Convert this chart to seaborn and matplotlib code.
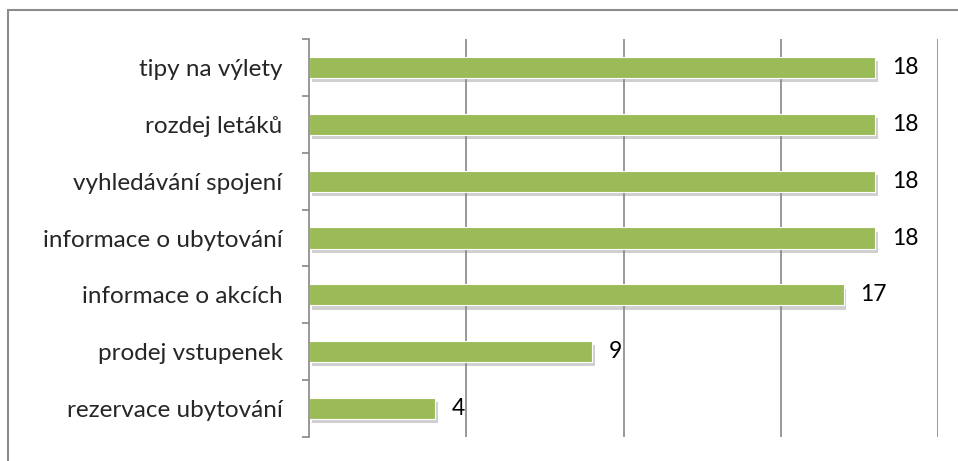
import matplotlib
matplotlib.use("Agg")
import matplotlib.pyplot as plt
import matplotlib.patheffects as pe
from matplotlib.patches import Rectangle
import seaborn as sns
import pandas as pd

categories = ["tipy na výlety", "rozdej letáků", "vyhledávání spojení",
              "informace o ubytování", "informace o akcích",
              "prodej vstupenek", "rezervace ubytování"]
values = [18, 18, 18, 18, 17, 9, 4]

df = pd.DataFrame({"sluzba": categories, "pocet": values})

sns.set_style("white")
plt.rcParams['font.family'] = ['Lato', 'DejaVu Sans']

fig = plt.figure(figsize=(9.58, 4.61), dpi=100)
ax = fig.add_axes([309 / 958, 1 - 437 / 461, (938 - 309) / 958, (437 - 39) / 461])

sns.barplot(data=df, x="pocet", y="sluzba", orient="h", color="#9BBB59",
            saturation=1, width=0.37, edgecolor="white", linewidth=0.8, ax=ax)

# soft grey shadow under each bar like the original
for bar in ax.patches:
    bar.set_path_effects([pe.SimplePatchShadow(offset=(2, -3), shadow_rgbFace="#8a8a8a", alpha=0.4),
                          pe.Normal()])

ax.bar_label(ax.containers[0], padding=12, fontsize=16.5, color="black")

ax.set_xlim(0, 20)
ax.set_ylim(len(categories) - 0.5, -0.5)
ax.set_xticks([5, 10, 15, 20])
ax.set_xticklabels([])
ax.tick_params(axis="x", length=0)
ax.grid(axis="x", color="#868686", linewidth=1.2)
ax.set_axisbelow(True)

ax.set_xlabel("")
ax.set_ylabel("")
ax.tick_params(axis="y", which="major", length=0, pad=19, labelsize=17.5)
ax.set_yticks([i - 0.5 for i in range(len(categories) + 1)], minor=True)
ax.tick_params(axis="y", which="minor", length=5, width=1.2, color="#868686", left=True)

for s in ["top", "right", "bottom"]:
    ax.spines[s].set_visible(False)
ax.spines["left"].set_color("#868686")
ax.spines["left"].set_linewidth(1.2)

# outer chart frame, cut off at right and bottom
fig.patches.append(Rectangle((8 / 958, -0.2), 1.2, 1.2 - 10 / 461, transform=fig.transFigure,
                             fill=False, edgecolor="#8c8c8c", linewidth=1.5))

fig.savefig("out.png", dpi=100)
